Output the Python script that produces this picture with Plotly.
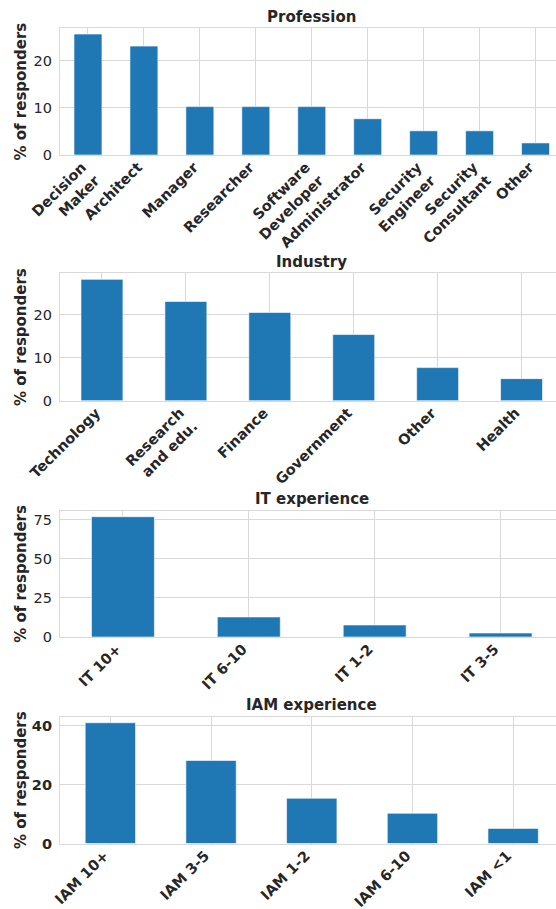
import plotly.graph_objects as go

# Survey breakdowns (% of responders)
profession_labels = ["Decision<br>Maker", "Architect", "Manager", "Researcher",
                     "Software<br>Developer", "Administrator", "Security<br>Engineer",
                     "Security<br>Consultant", "Other"]
profession_values = [25.64, 23.08, 10.26, 10.26, 10.26, 7.69, 5.13, 5.13, 2.56]

industry_labels = ["Technology", "Research<br>and edu.", "Finance", "Government",
                   "Other", "Health"]
industry_values = [28.21, 23.08, 20.51, 15.38, 7.69, 5.13]

it_labels = ["IT 10+", "IT 6-10", "IT 1-2", "IT 3-5"]
it_values = [76.92, 12.82, 7.69, 2.56]

iam_labels = ["IAM 10+", "IAM 3-5", "IAM 1-2", "IAM 6-10", "IAM <1"]
iam_values = [41.03, 28.21, 15.38, 10.26, 5.13]

y_ticks = [[0, 10, 20], [0, 10, 20], [0, 25, 50, 75], [0, 20, 40]]

W, H = 556, 909
L = 60
AX_RIGHT = 563.5  # the axes run a little past the right edge of the canvas
BAR = "#1f77b4"
GRID = "#d9d9d9"
TXT = "#262626"
FONT = "DejaVu Sans"

panels = [
    ("Profession", profession_labels, profession_values, 28.0, 155.0, False),
    ("Industry", industry_labels, industry_values, 273.3, 400.7, False),
    ("IT experience", it_labels, it_values, 510.7, 637.0, False),
    ("IAM experience", iam_labels, iam_values, 716.7, 843.5, True),
]

visible_frac = (W - L) / (AX_RIGHT - L)
title_x = ((L + AX_RIGHT) / 2 - L) / (W - L)

fig = go.Figure()
annotations = []
for i, (title, labels, values, top_px, bot_px, bold_y) in enumerate(panels):
    n = len(labels)
    xa = "x" if i == 0 else f"x{i+1}"
    ya = "y" if i == 0 else f"y{i+1}"
    fig.add_trace(go.Bar(
        x=list(range(n)), y=values, width=0.5, xaxis=xa, yaxis=ya,
        marker=dict(color=BAR, line=dict(color="rgba(255,255,255,0.6)", width=1)),
        showlegend=False, hoverinfo="skip",
    ))
    ymax = max(values) * 1.05
    dom = [1 - bot_px / H, 1 - top_px / H]
    xkey = "xaxis" if i == 0 else f"xaxis{i+1}"
    ykey = "yaxis" if i == 0 else f"yaxis{i+1}"
    fig.layout[xkey] = dict(
        domain=[0, 1], anchor=ya,
        range=[-0.5, -0.5 + n * visible_frac],
        tickmode="array", tickvals=list(range(n)), ticktext=labels,
        tickangle=-45, showgrid=True, gridcolor=GRID, gridwidth=1,
        showline=True, mirror=True, linecolor=GRID, linewidth=1.2,
        ticks="", zeroline=False, automargin=False,
        ticklabelshift=-6, ticklabelstandoff=-3,
        tickfont=dict(family=FONT, size=14.5, color=TXT, weight="bold"),
    )
    fig.layout[ykey] = dict(
        domain=dom, anchor=xa, range=[0, ymax],
        tickmode="array", tickvals=y_ticks[i],
        showgrid=True, gridcolor=GRID, gridwidth=1,
        showline=True, mirror=False, linecolor=GRID, linewidth=1.2,
        ticks="outside", ticklen=4, tickcolor="rgba(0,0,0,0)",
        zeroline=False, automargin=False,
        tickfont=dict(family=FONT, size=14.5, color=TXT,
                      weight="bold" if bold_y else "normal"),
    )
    annotations.append(dict(
        text=f"<b>{title}</b>", xref="paper", yref="paper",
        x=title_x, y=1 - (top_px - 11.5) / H, xanchor="center", yanchor="middle",
        showarrow=False, font=dict(family=FONT, size=15, color=TXT),
    ))
    annotations.append(dict(
        text="<b>% of responders</b>", xref="paper", yref="paper",
        x=(21 - L) / (W - L), y=1 - (top_px + bot_px) / 2 / H,
        xanchor="center", yanchor="middle", textangle=-90,
        showarrow=False, font=dict(family=FONT, size=15, color=TXT),
    ))

fig.update_layout(
    width=W, height=H,
    margin=dict(l=L, r=0, t=0, b=0),
    paper_bgcolor="white", plot_bgcolor="white",
    annotations=annotations,
    font=dict(family=FONT, color=TXT),
)

fig.write_html("out.html")
